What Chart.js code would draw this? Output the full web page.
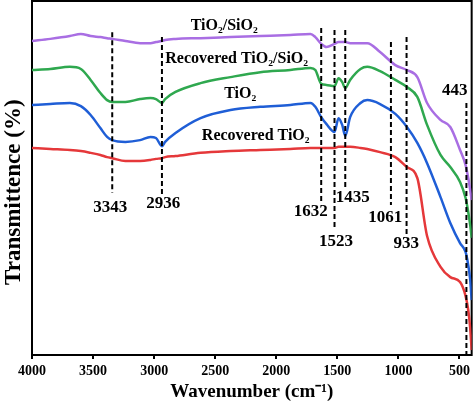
<!DOCTYPE html>
<html><head><meta charset="utf-8">
<script src="https://cdn.jsdelivr.net/npm/chart.js@4.4.1/dist/chart.umd.min.js"></script>
<style>html,body{margin:0;padding:0;background:#fff;}#wrap{width:474px;height:403px;}</style>
</head><body><div id="wrap"><canvas id="c" width="474" height="403"></canvas></div>
<script>
const wavenumbers = [4000,3850,3690,3600,3520,3440,3385,3343,3235,3115,3030,2985,2936,2910,2825,2620,2375,2130,1885,1720,1680,1632,1590,1523,1490,1460,1435,1395,1310,1255,1150,1025,930,845,765,655,575,495,450,428,412,400];
const tio2sio2 = [88.7,89.3,90.1,90.7,90.1,89.8,89.5,89.3,88.7,88.1,88.1,88.4,88.7,89.0,89.3,89.5,89.8,90.1,90.4,90.7,89.8,87.9,87.0,87.9,88.4,88.4,88.4,88.1,88.1,88.1,85.6,81.9,80.5,78.5,71.2,66.4,64.4,57.9,53.7,50.0,46.6,43.8];
const recTio2sio2 = [80.5,80.8,81.4,80.8,77.7,74.0,72.0,71.5,71.5,72.3,72.6,72.3,71.2,72.3,74.3,76.8,78.5,79.9,80.5,81.1,80.5,76.6,76.3,76.0,78.2,77.1,75.4,77.7,80.8,81.4,80.2,77.7,75.7,72.9,65.0,56.5,53.1,48.9,44.4,40.4,36.7,33.1];
const tio2 = [70.6,70.9,71.2,70.3,67.8,64.1,61.6,60.7,60.2,60.7,61.6,61.3,59.0,60.2,62.7,66.9,69.2,70.1,70.6,71.2,70.1,67.2,65.3,63.0,66.9,65.0,61.9,67.2,71.2,72.0,70.9,68.1,64.4,59.9,54.2,44.6,37.3,31.6,29.1,25.4,21.2,15.5];
const recTio2 = [58.5,58.2,57.9,57.6,57.1,56.5,55.9,55.6,54.8,54.8,55.1,55.4,55.6,55.9,56.2,57.1,57.6,57.9,58.2,58.5,58.5,58.5,58.5,58.5,58.8,58.8,58.8,58.8,58.5,58.2,57.3,55.9,53.1,50.0,33.6,24.9,22.0,20.6,16.7,12.7,7.6,1.4];

const seriesNames = ['TiO₂/SiO₂','Recovered TiO₂/SiO₂','TiO₂','Recovered TiO₂'];
const seriesColors = ['#a96ee3','#2fa84f','#1f5ed6','#e5383a'];
const seriesLabelX = [2426,2324,2295,2168];
const seriesLabelY = [92.9,83.6,73.7,61.9];

const markerWavenumbers = [3343,2936,1632,1523,1435,1061,933,443];
const markerTop = [91.2,89.8,92.4,91.8,91.8,88.4,89.8,71.2];
const markerBottom = [45.8,45.2,43.2,35.3,46.6,42.4,33.3,0];
const markerLabels = ['3343','2936','1632','1523','1435','1061','933','443'];
const markerLabelX = [3359,2925,1718,1511,1374,1108,936,539];
const markerLabelY = [41.5,42.9,40.4,32.1,44.4,38.7,31.6,74.6];

const xTickValues = [4000,3500,3000,2500,2000,1500,1000,500];
const xTitle = 'Wavenumber (cm⁻¹)';
const yTitle = 'Transmittence (%)';

const seriesValues = [tio2sio2, recTio2sio2, tio2, recTio2];
const FONT = '"Liberation Serif", "Times New Roman", serif';

const datasets = [];
markerWavenumbers.forEach((w,i)=>{
  datasets.push({type:'line', data:[{x:w,y:markerTop[i]},{x:w,y:markerBottom[i]}],
    borderColor:'#000', borderWidth:2, borderDash:[5,3], pointRadius:0, tension:0, order:0});
});
seriesValues.forEach((vals,i)=>{
  datasets.push({type:'line', data: wavenumbers.map((w,j)=>({x:w,y:vals[j]})),
    borderColor: seriesColors[i], borderWidth:2.5, pointRadius:0, cubicInterpolationMode:'monotone', order:1});
});

const overlay = {
  id:'overlay',
  beforeDatasetsDraw(chart){
    const {ctx, chartArea:a} = chart;
    ctx.save(); ctx.strokeStyle='#000'; ctx.lineWidth=2;
    ctx.strokeRect(a.left, a.top, a.right-a.left, a.bottom-a.top);
    ctx.restore();
  },
  afterDatasetsDraw(chart){
    const {ctx, chartArea:a, scales:{x,y}} = chart;
    ctx.save(); ctx.fillStyle='#000'; ctx.textAlign='center'; ctx.textBaseline='middle';
    ctx.font = 'bold 17px ' + FONT;
    markerLabels.forEach((t,i)=>ctx.fillText(t, x.getPixelForValue(markerLabelX[i]), y.getPixelForValue(markerLabelY[i])));
    ctx.font = 'bold 16px ' + FONT;
    seriesNames.forEach((t,i)=>ctx.fillText(t, x.getPixelForValue(seriesLabelX[i]), y.getPixelForValue(seriesLabelY[i])));
    // y axis title
    ctx.translate(y.left + 14, a.top + (a.bottom - a.top) * 0.54);
    ctx.rotate(-Math.PI/2);
    ctx.font = 'bold 23px ' + FONT;
    ctx.fillText(yTitle, 0, 0);
    ctx.restore();
  }
};

new Chart(document.getElementById('c'), {
  type:'line',
  data:{datasets},
  options:{
    responsive:false, devicePixelRatio:1, animation:false,
    layout:{padding:{top:1,right:2,left:0,bottom:0}},
    plugins:{legend:{display:false}, tooltip:{enabled:false}},
    scales:{
      x:{type:'linear', min:400, max:4000, reverse:true,
        afterBuildTicks:s=>{ s.ticks = xTickValues.map(v=>({value:v})); },
        afterFit:s=>{ s.height = 48; },
        grid:{display:true, drawOnChartArea:false, drawTicks:true, tickLength:4, color:'#000', lineWidth:2},
        border:{display:false},
        ticks:{color:'#000', padding:4, maxRotation:0, autoSkip:false, font:{family:FONT, weight:'bold', size:14}, callback:v=>String(v)},
        title:{display:true, text:xTitle, color:'#000', padding:{top:0,bottom:0}, font:{family:FONT, weight:'bold', size:19}}
      },
      y:{type:'linear', min:0, max:100,
        afterFit:s=>{ s.width = 32; },
        grid:{display:false}, border:{display:false},
        ticks:{display:false},
        title:{display:false}
      }
    }
  },
  plugins:[overlay]
});
</script></body></html>
